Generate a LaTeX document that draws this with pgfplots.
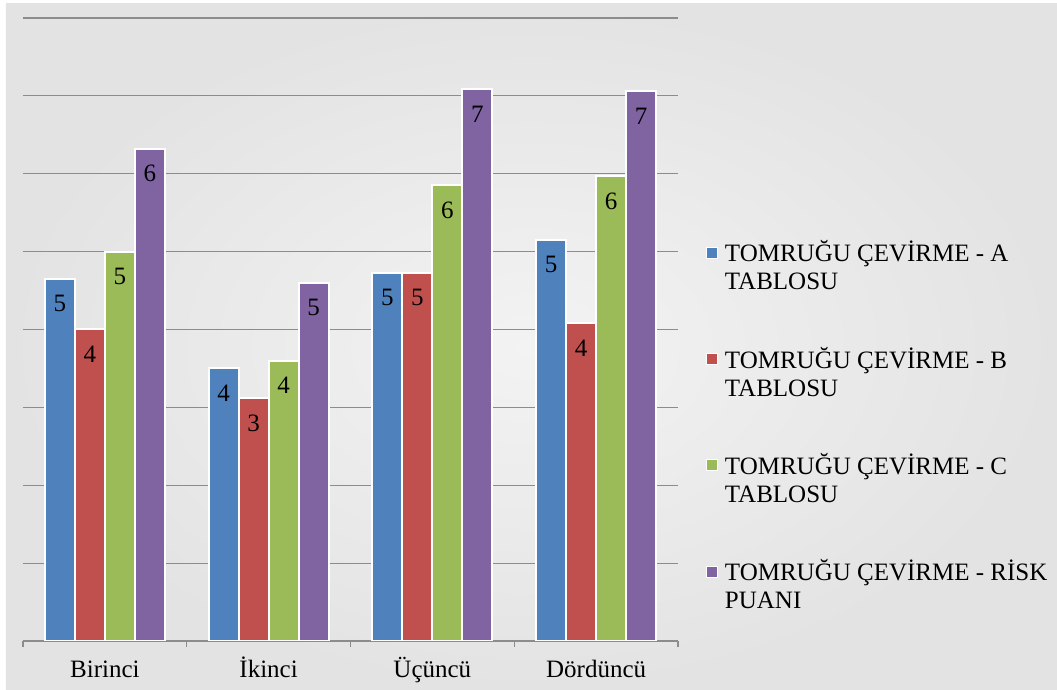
\documentclass[border=0pt]{standalone}
\usepackage{pgfplots}
\pgfplotsset{compat=1.18}
\usepackage{fontspec}
\setmainfont{Liberation Serif}

\definecolor{serA}{HTML}{4F81BD}
\definecolor{serB}{HTML}{C0504D}
\definecolor{serC}{HTML}{9BBB59}
\definecolor{serD}{HTML}{8064A2}
\definecolor{gridgray}{HTML}{8C8C8C}
\definecolor{bgedge}{HTML}{E3E3E3}
\definecolor{bgmid}{HTML}{F3F3F3}

\begin{document}
\begin{tikzpicture}[font=\fontsize{12.5}{14}\selectfont]
% chart area background
\fill[white] (-11.5pt,-24.5pt) rectangle (517pt,320.5pt);
\shade[inner color=bgmid, outer color=bgedge] (-8.5pt,-24.5pt) rectangle (517pt,318.5pt);
\begin{axis}[
    at={(0pt,0pt)}, anchor=south west,
    scale only axis,
    width=327.5pt, height=311.5pt,
    ybar=0pt, bar width=15pt,
    xmin=-0.5, xmax=3.5, ymin=0, ymax=8,
    xtick={0,1,2,3},
    xticklabels={Birinci, İkinci, Üçüncü, Dördüncü},
    minor xtick={-0.5,0.5,1.5,2.5,3.5},
    ytick={1,...,8}, yticklabels={},
    ymajorgrids,
    grid style={gridgray, line width=0.6pt},
    axis x line*=bottom, axis y line*=left,
    x axis line style={-, draw=gridgray, line width=0.6pt},
    y axis line style={draw=none},
    ytick style={draw=none},
    xtick style={draw=gridgray, line width=0.6pt},
    major tick length=0pt, minor tick length=3pt, tick align=outside,
    xticklabel style={anchor=base, yshift=-18.5pt},
    nodes near coords={\pgfplotspointmeta},
    point meta=explicit symbolic,
    every node near coord/.append style={anchor=center, yshift=-12.5pt, text=black},
    legend style={draw=none, fill=none, at={(1.0427,0.643)}, anchor=north west,
        inner sep=0pt, row sep=41pt, column sep=3.5pt,
        nodes={inner sep=0pt}},
    legend cell align=left,
    legend image code/.code={\draw[#1, line width=0.3pt] (0pt,-2.75pt) rectangle (5.5pt,2.75pt);},
]
\addplot[fill=serA, draw=white, line width=1pt] coordinates {(0,4.65)[5] (1,3.5)[4] (2,4.73)[5] (3,5.15)[5]};
\addplot[fill=serB, draw=white, line width=1pt] coordinates {(0,4.0)[4] (1,3.12)[3] (2,4.73)[5] (3,4.08)[4]};
\addplot[fill=serC, draw=white, line width=1pt] coordinates {(0,5.0)[5] (1,3.6)[4] (2,5.85)[6] (3,5.97)[6]};
\addplot[fill=serD, draw=white, line width=1pt] coordinates {(0,6.32)[6] (1,4.6)[5] (2,7.09)[7] (3,7.06)[7]};
\addlegendentry{\begin{tabular}[t]{@{}l@{}}TOMRUĞU ÇEVİRME - A\\TABLOSU\end{tabular}}
\addlegendentry{\begin{tabular}[t]{@{}l@{}}TOMRUĞU ÇEVİRME - B\\TABLOSU\end{tabular}}
\addlegendentry{\begin{tabular}[t]{@{}l@{}}TOMRUĞU ÇEVİRME - C\\TABLOSU\end{tabular}}
\addlegendentry{\begin{tabular}[t]{@{}l@{}}TOMRUĞU ÇEVİRME - RİSK\\PUANI\end{tabular}}
\end{axis}
\pgfresetboundingbox
\path[use as bounding box] (-11.5pt,-24.5pt) rectangle (517pt,320.5pt);
\end{tikzpicture}
\end{document}
